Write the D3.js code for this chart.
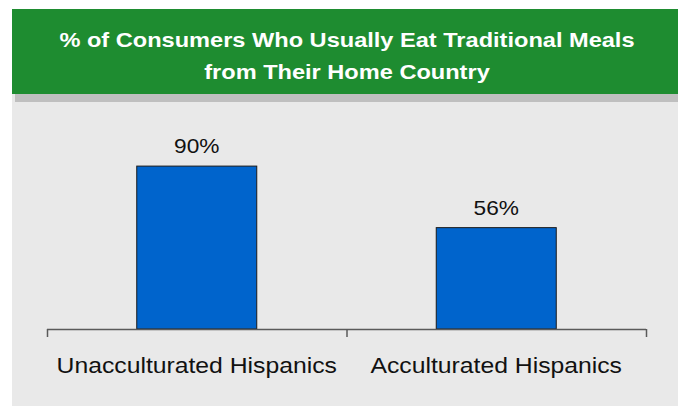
<!DOCTYPE html>
<html>
<head>
<meta charset="utf-8">
<script src="https://cdn.jsdelivr.net/npm/d3@7"></script>
<style>
  html, body { margin: 0; padding: 0; background: #ffffff; }
  svg { display: block; }
</style>
</head>
<body>
<svg id="chart" width="678" height="406"></svg>
<script>
// Share of consumers who usually eat traditional meals from their home country
const categories = ["Unacculturated Hispanics", "Acculturated Hispanics"];
const values = [90, 56];
const titleLines = ["% of Consumers Who Usually Eat Traditional Meals", "from Their Home Country"];

const svg = d3.select("#chart");
const W = 678, H = 406;
const FONT = "Liberation Sans, Arial, sans-serif";

// Text is set slightly wide: stretch each label horizontally by a factor
function widen(sel, k) {
  sel.each(function () {
    const len = this.getComputedTextLength();
    d3.select(this).attr("textLength", len * k).attr("lengthAdjust", "spacingAndGlyphs");
  });
}

// Panel background and header band
svg.append("rect").attr("x", 12).attr("y", 94).attr("width", W - 12).attr("height", H - 94)
  .attr("fill", "#e9e9e9");
svg.append("rect").attr("x", 15).attr("y", 94).attr("width", W - 15).attr("height", 8)
  .attr("fill", "#bfbfbf");
svg.append("rect").attr("x", 12).attr("y", 9).attr("width", W - 12).attr("height", 85)
  .attr("fill", "#1e8c30");

svg.append("g").selectAll("text").data(titleLines).join("text")
  .attr("x", 347).attr("y", (d, i) => 47 + i * 31.5)
  .attr("text-anchor", "middle")
  .attr("fill", "#ffffff")
  .attr("font-family", FONT)
  .attr("font-weight", "bold")
  .attr("font-size", 20.5)
  .text(d => d)
  .call(widen, 1.15);

// Scales
const x = d3.scaleBand().domain(categories).range([47, 646]).paddingInner(0).paddingOuter(0);
const y = d3.scaleLinear().domain([0, 100]).range([329, 148]);
const barW = 120;

// Bars
svg.append("g").selectAll("rect").data(values).join("rect")
  .attr("x", (d, i) => x(categories[i]) + x.bandwidth() / 2 - barW / 2)
  .attr("y", d => y(d))
  .attr("width", barW)
  .attr("height", d => y(0) - y(d))
  .attr("fill", "#0064cc")
  .attr("stroke", "#1a1a1a")
  .attr("stroke-width", 1);

// Value labels
svg.append("g").selectAll("text").data(values).join("text")
  .attr("x", (d, i) => x(categories[i]) + x.bandwidth() / 2)
  .attr("y", d => y(d) - 13)
  .attr("text-anchor", "middle")
  .attr("fill", "#111")
  .attr("font-family", FONT)
  .attr("font-size", 21)
  .text(d => d + "%")
  .call(widen, 1.08);

// Category axis with ticks at band boundaries
const axisG = svg.append("g");
axisG.append("line").attr("x1", 47).attr("x2", 646).attr("y1", 329.5).attr("y2", 329.5)
  .attr("stroke", "#5a5a5a").attr("stroke-width", 1.5);
const bounds = categories.map(c => x(c)).concat([x.range()[1]]);
axisG.selectAll("line.tick").data(bounds).join("line").attr("class", "tick")
  .attr("x1", d => d + 0.5).attr("x2", d => d + 0.5)
  .attr("y1", 329).attr("y2", 337)
  .attr("stroke", "#5a5a5a").attr("stroke-width", 1.5);

axisG.selectAll("text").data(categories).join("text")
  .attr("x", d => x(d) + x.bandwidth() / 2)
  .attr("y", 372.5)
  .attr("text-anchor", "middle")
  .attr("fill", "#111")
  .attr("font-family", FONT)
  .attr("font-size", 21.5)
  .text(d => d)
  .call(widen, 1.15);
</script>
</body>
</html>
